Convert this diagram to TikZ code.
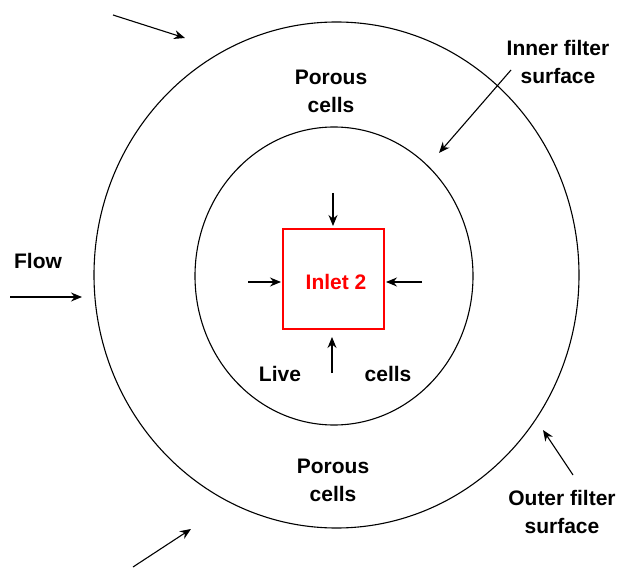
\documentclass[tikz,border=0pt]{standalone}
\usepackage{fontspec}
\setmainfont{Liberation Sans}
\usetikzlibrary{arrows.meta,shapes.geometric}
\tikzset{
  lbl/.style={font=\bfseries\fontsize{21}{28}\selectfont, align=center, inner sep=0pt},
  ring/.style={draw=black, line width=1.1pt, ellipse, inner sep=0pt},
  arr/.style={line width=1.1pt, -{Stealth[length=11pt,width=9pt]}},
}
\begin{document}
\begin{tikzpicture}[x=1pt,y=-1pt]
\useasboundingbox (0,0) rectangle (618,569);
% rings
\node[ring, minimum width=485pt, minimum height=506pt] (outer) at (336.5,275) {};
\node[ring, minimum width=278pt, minimum height=298pt] (innerring) at (334,276) {};
% inlet
\node[draw=red, line width=1.1pt, minimum width=101pt, minimum height=100pt, inner sep=0pt] (inlet) at (333.5,279) {};
\node[text=red, font=\bfseries\fontsize{21}{26}\selectfont, inner sep=0pt] (inlettext) at (336,282) {Inlet 2};
% arrows to inlet
\coordinate (t0) at (333,193); \coordinate (t1) at (333,226);
\coordinate (l0) at (248,282); \coordinate (l1) at (281,282);
\coordinate (r0) at (422,282); \coordinate (r1) at (386,282);
\coordinate (b0) at (332,373); \coordinate (b1) at (332,337);
\draw[arr] (t0) -- (t1);
\draw[arr] (l0) -- (l1);
\draw[arr] (r0) -- (r1);
\draw[arr] (b0) -- (b1);
% labels
\node[lbl] (live) at (280,374) {Live};
\node[lbl] (cells) at (388,374) {cells};
\node[lbl] (ptop) at (331,91.5) {Porous\\cells};
\node[lbl] (pbot) at (333,480.5) {Porous\\cells};
\node[lbl] (flow) at (38,261) {Flow};
\node[lbl] (inner) at (558,62) {Inner filter\\surface};
\node[lbl] (outerl) at (562,512) {Outer filter\\surface};
% flow arrows
\coordinate (f0) at (10,297); \coordinate (f1) at (82,297);
\draw[arr] (f0) -- (f1);
\coordinate (a0) at (113,15); \coordinate (a1) at (185,38);
\draw[arr] (a0) -- (a1);
\coordinate (c0) at (133,567); \coordinate (c1) at (191,529);
\draw[arr] (c0) -- (c1);
% surface pointers
\coordinate (i0) at (511,70); \coordinate (i1) at (439,153);
\draw[arr] (i0) -- (i1);
\coordinate (o0) at (573,475); \coordinate (o1) at (543,430);
\draw[arr] (o0) -- (o1);
\end{tikzpicture}
\end{document}
